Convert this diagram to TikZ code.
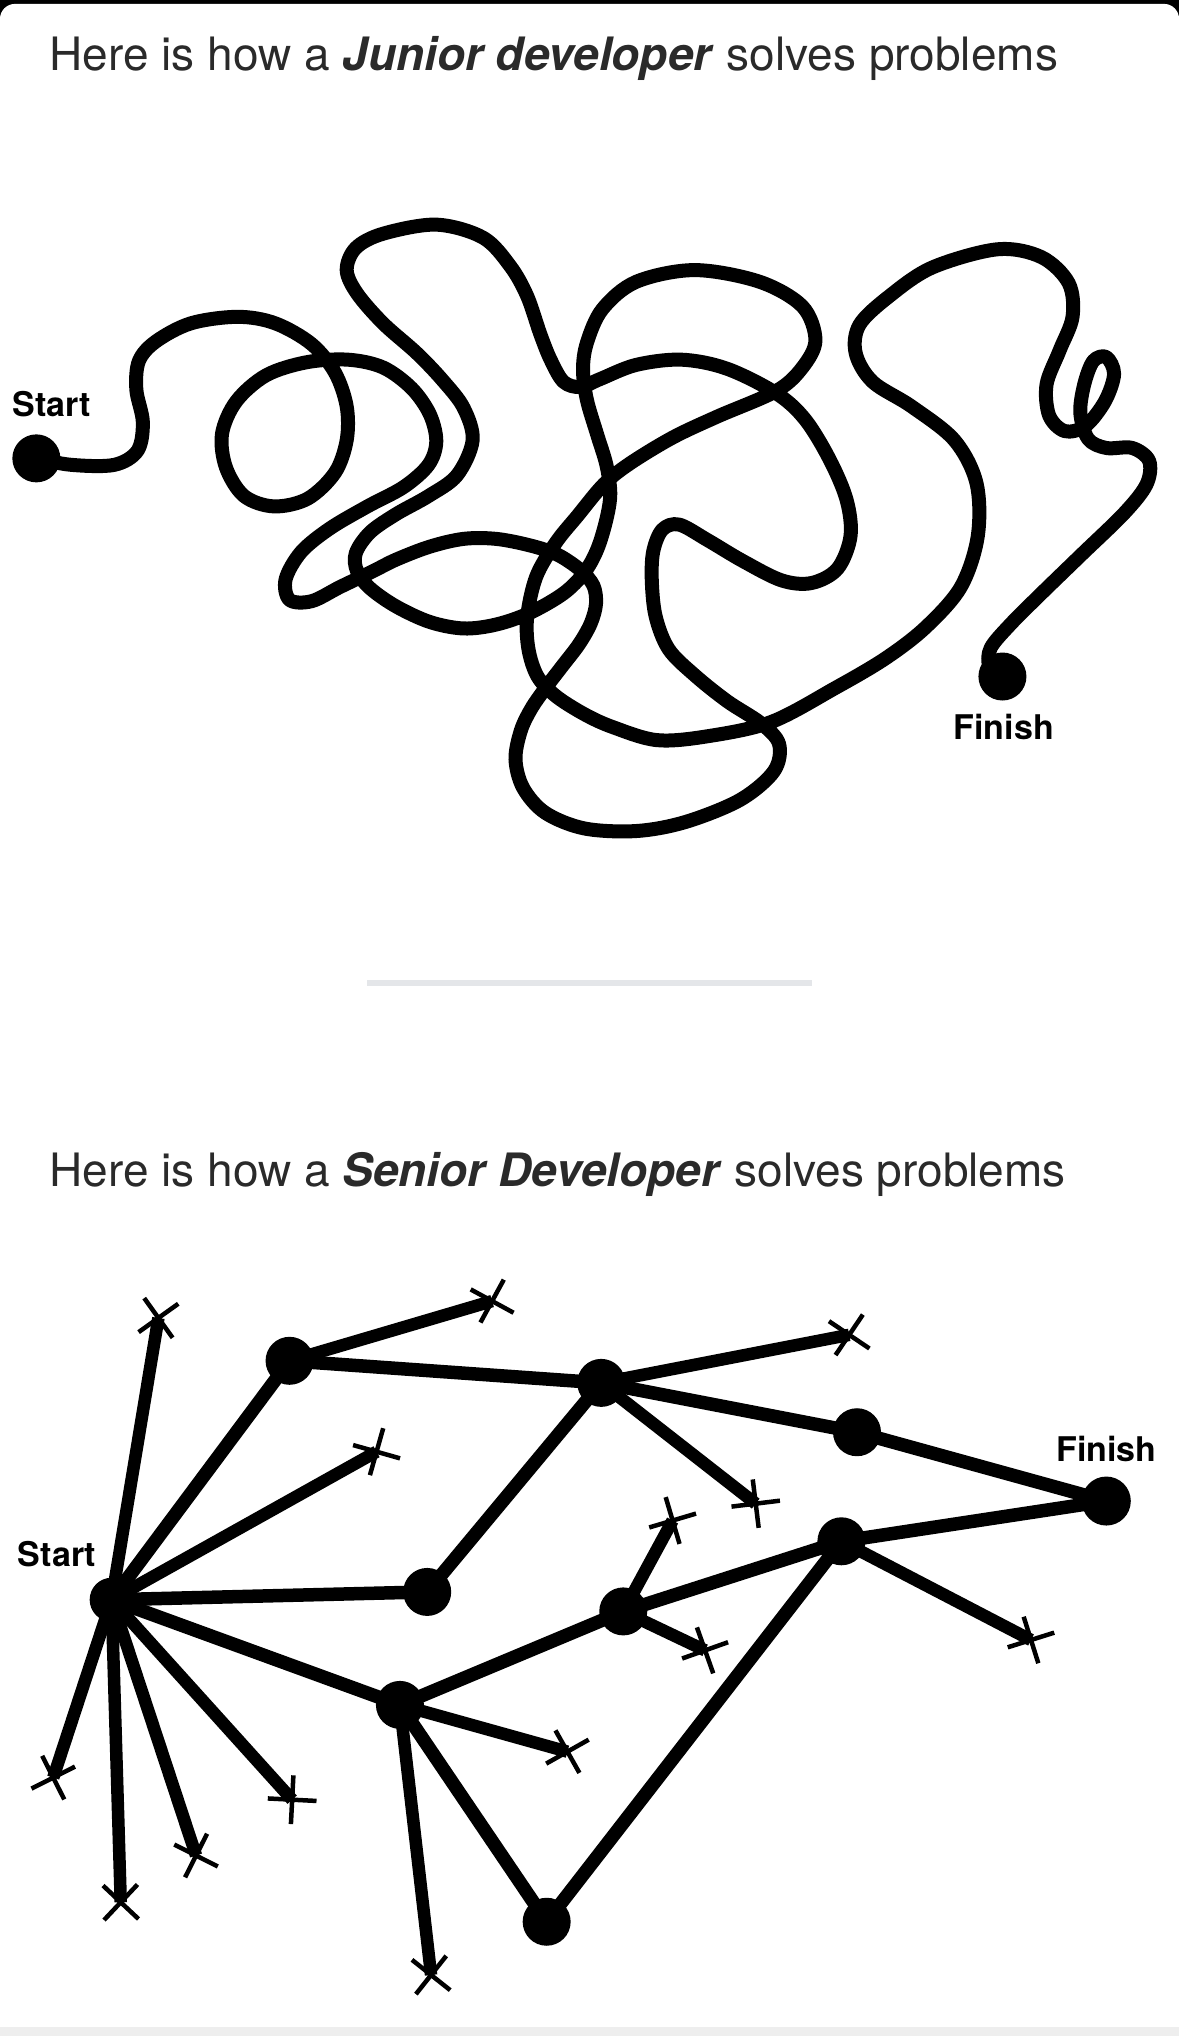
\documentclass[tikz,border=0pt]{standalone}
\usepackage{fontspec}
\setmainfont{TeX Gyre Heros}
\usetikzlibrary{shapes.misc}
\definecolor{txt}{HTML}{2A2A2A}
\definecolor{sepgray}{HTML}{E4E6E9}
\definecolor{botgray}{HTML}{EEEEEE}
\begin{document}
\begin{tikzpicture}[x=1.2985pt,y=-1.2985pt,
  title/.style={anchor=base west, inner sep=0pt, text=txt, font=\fontsize{46}{54}\selectfont},
  lbl/.style={inner sep=0pt, text=black, font=\fontsize{34}{40}\selectfont\bfseries},
  squiggle/.style={line width=14pt, line cap=round, line join=round},
  bigdot/.style={circle, fill=black, inner sep=0pt, minimum size=48pt},
  gnode/.style={circle, fill=black, inner sep=0pt, minimum size=48pt},
  edge/.style={line width=13.5pt},
  dead/.style={line width=12.5pt},
  xmark/.style={cross out, draw=black, line width=4.5pt, inner sep=0pt, minimum size=30pt, sloped, pos=1},
]
\useasboundingbox (0,0) rectangle (908,1568);
% background card
\fill[black] (0,0) rectangle (908,1568);
\fill[white, rounded corners=15pt] (0,3) rectangle (908,1600);
\fill[botgray] (0,1561) rectangle (908,1568);

% titles
\node[title] (t1) at (38,54) {Here is how a \textbf{\textit{Junior developer}} solves problems};
\node[title] (t2) at (38,914) {Here is how a \textbf{\textit{Senior Developer}} solves problems};

% separator
\fill[sepgray] (283,755) rectangle (625,759);

% ---------------- junior ----------------
\node[lbl] (jsl) at (40,311) {Start};
\node[lbl] (jfl) at (773,560) {Finish};
\draw[squiggle] plot[smooth, tension=0.55] coordinates {
(28,353) (55,358) (88,358) (106,347) (110,325) (105,300) (107,278) (120,263) (147,249) (183,244)
(212,249) (240,265) (258,287) (267,313) (267,339) (258,364) (237,384) (211,390) (188,382) (174,360)
(171,334) (182,309) (205,289) (236,279) (268,277) (295,283) (317,299) (331,319) (336,340) (330,358)
(311,375) (283,390) (254,407) (232,425) (220,446) (223,462) (240,463) (262,452) (287,440) (305,431)
(331,421) (357,415) (382,415) (408,420) (429,427) (447,439) (457,451) (459,465) (455,480) (446,496)
(433,513) (420,530) (409,546) (401,563) (397,585) (403,607) (420,626) (450,638) (490,640) (528,633)
(570,616) (596,594) (600,573) (586,557) (560,540) (535,520) (515,500) (505,475) (502,448) (503,425)
(510,408) (523,404) (545,416) (572,432) (602,447) (625,449) (645,438) (655,413) (652,385) (639,354)
(620,323) (598,303) (560,284) (525,277) (490,281) (462,292) (447,298) (434,294) (424,277) (416,257)
(406,228) (393,205) (372,183) (336,173) (295,180) (274,191) (267,208) (275,226) (295,249) (321,272)
(341,293) (357,314) (364,339) (352,366) (330,382) (305,396) (285,410) (274,426) (275,440) (285,453)
(305,467) (331,479) (357,484) (382,481) (408,472) (434,457) (450,441) (460,423) (467,400) (470,380)
(467,358) (460,335) (452,308) (449,285) (452,264) (464,238) (490,217) (535,208) (585,217) (618,236)
(628,262) (618,283) (598,301) (552,321) (518,337) (485,357) (465,373) (445,397) (428,418) (413,444)
(406,475) (407,500) (414,521) (428,536) (450,550) (472,560) (506,570) (545,567) (594,556) (643,530)
(682,507) (713,483) (740,452) (753,413) (752,372) (735,339) (702,313) (672,294) (659,272) (662,250)
(685,228) (718,206) (768,192) (802,198) (823,218) (826,244) (816,270) (806,296) (808,320) (820,332)
(836,328) (851,309) (858,288) (852,275) (842,278) (835,296) (832,318) (838,338) (852,345) (872,345)
(885,355) (883,373) (866,395) (833,427) (801,458) (778,481) (763,499) (762,513) (772,521)};
\node[bigdot] (js) at (28,353) {};
\node[bigdot] (jf) at (772,521) {};

% ---------------- senior ----------------
\node[lbl] (ssl) at (44,1197) {Start};
\node[lbl] (sfl) at (852,1116) {Finish};
\node[gnode, minimum size=44pt] (s0) at (86,1232) {};
\node[gnode] (a) at (223,1048) {};
\node[gnode] (b) at (463,1065) {};
\node[gnode] (c) at (660,1103) {};
\node[gnode, minimum size=49pt] (f) at (852,1156) {};
\node[gnode] (d) at (329,1226) {};
\node[gnode] (e) at (480,1241) {};
\node[gnode] (g) at (648,1187) {};
\node[gnode] (h) at (308,1313) {};
\node[gnode] (i) at (421,1480) {};

\coordinate (x1) at (122,1015);
\coordinate (x2) at (290,1118);
\coordinate (x3) at (41,1369);
\coordinate (x4) at (93,1465);
\coordinate (x5) at (151,1429);
\coordinate (x6) at (225,1386);
\coordinate (x7) at (379,1002);
\coordinate (x8) at (654,1028);
\coordinate (x9) at (582,1158);
\coordinate (x10) at (518,1171);
\coordinate (x11) at (543,1271);
\coordinate (x12) at (794,1263);
\coordinate (x13) at (437,1349);
\coordinate (x14) at (332,1521);

\draw[edge] (s0.center) -- (a.center);
\draw[edge] (a.center) -- (b.center);
\draw[edge] (b.center) -- (c.center);
\draw[edge] (c.center) -- (f.center);
\draw[edge] (b.center) -- (d.center);
\draw[edge] (s0.center) -- (d.center);
\draw[edge] (s0.center) -- (h.center);
\draw[edge] (h.center) -- (e.center);
\draw[edge] (e.center) -- (g.center);
\draw[edge] (g.center) -- (f.center);
\draw[edge] (g.center) -- (i.center);
\draw[edge] (h.center) -- (i.center);

\draw[dead] (s0.center) -- node[xmark] (m1) {} (x1);
\draw[dead] (s0.center) -- node[xmark] (m2) {} (x2);
\draw[dead] (s0.center) -- node[xmark] (m3) {} (x3);
\draw[dead] (s0.center) -- node[xmark] (m4) {} (x4);
\draw[dead] (s0.center) -- node[xmark] (m5) {} (x5);
\draw[dead] (s0.center) -- node[xmark] (m6) {} (x6);
\draw[dead] (a.center) -- node[xmark] (m7) {} (x7);
\draw[dead] (b.center) -- node[xmark] (m8) {} (x8);
\draw[dead] (b.center) -- node[xmark] (m9) {} (x9);
\draw[dead] (e.center) -- node[xmark] (m10) {} (x10);
\draw[dead] (e.center) -- node[xmark] (m11) {} (x11);
\draw[dead] (g.center) -- node[xmark] (m12) {} (x12);
\draw[dead] (h.center) -- node[xmark] (m13) {} (x13);
\draw[dead] (h.center) -- node[xmark] (m14) {} (x14);
\end{tikzpicture}
\end{document}
